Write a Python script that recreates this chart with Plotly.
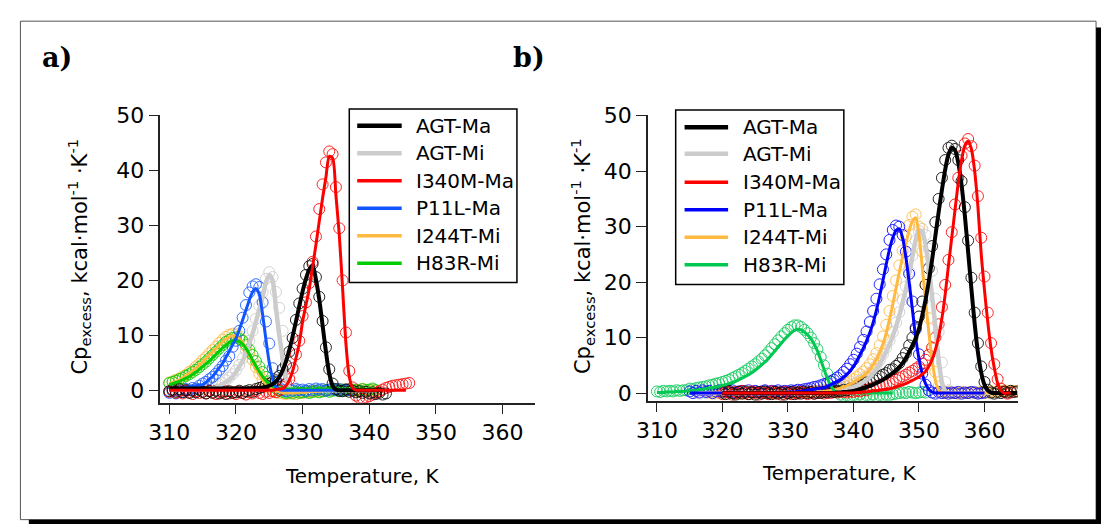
import plotly.graph_objects as go

N = None
W, H = 1101, 529

names = ["AGT-Ma", "AGT-Mi", "I340M-Ma", "P11L-Ma", "I244T-Mi", "H83R-Mi"]

# ---------------- Panel a : temperature grid (K) ----------------
T_A = [310.0, 310.5, 311.0, 311.5, 312.0, 312.5, 313.0, 313.5, 314.0, 314.5,
       315.0, 315.5, 316.0, 316.5, 317.0, 317.5, 318.0, 318.5, 319.0, 319.5,
       320.0, 320.5, 321.0, 321.5, 322.0, 322.5, 323.0, 323.5, 324.0, 324.5,
       325.0, 325.5, 326.0, 326.5, 327.0, 327.5, 328.0, 328.5, 329.0, 329.5,
       330.0, 330.5, 331.0, 331.5, 332.0, 332.5, 333.0, 333.5, 334.0, 334.5,
       335.0, 335.5, 336.0, 336.5, 337.0, 337.5, 338.0, 338.5, 339.0, 339.5,
       340.0, 340.5, 341.0, 341.5, 342.0, 342.5, 343.0, 343.5, 344.0, 344.5,
       345.0, 345.5, 346.0]

a_agt_ma_fit = [0.3, 0.3, 0.3, 0.3, 0.3, 0.3, 0.3, 0.3, 0.3, 0.3,
                0.3, 0.3, 0.3, 0.3, 0.3, 0.3, 0.3, 0.3, 0.3, 0.3,
                0.3, 0.3, 0.3, 0.3, 0.3, 0.3, 0.4, 0.4, 0.5, 0.6,
                0.8, 1.1, 1.6, 2.4, 3.6, 5.2, 7.3, 9.8, 12.5, 15.3,
                18.0, 20.3, 22.0, 22.7, 20.2, 16.5, 11.8, 7.0, 3.0, 0.8,
                0.1, 0.0, 0.0, 0.0, 0.0, 0.0, 0.0, 0.0, 0.0, 0.0,
                0.0, 0.0, 0.0, 0.0, 0.0, N, N, N, N, N,
                N, N, N]
a_agt_ma_data = [-0.2, 0.1, -0.3, 0.2, -0.4, 0.0, -0.5, -0.1, -0.4, 0.1,
                 -0.3, -0.6, -0.2, -0.5, -0.1, -0.6, -0.3, -0.7, -0.2, -0.5,
                 -0.4, -0.1, -0.5, -0.2, 0.0, -0.3, 0.2, 0.4, 0.6, 0.9,
                 1.2, 1.5, 1.8, 2.6, 3.8, 4.6, 7.0, 9.5, 12.8, 15.8,
                 18.5, 21.0, 22.6, 23.0, 20.6, 17.0, 12.6, 7.8, 3.8, 1.2,
                 0.2, -0.1, -0.2, 0.1, -0.3, -0.1, -0.4, -0.2, -0.5, -0.3,
                 -0.6, -0.4, -0.7, -0.5, -0.8, -0.6, N, N, N, N,
                 N, N, N]
a_agt_mi_fit = [0.1, 0.1, 0.1, 0.1, 0.1, 0.1, 0.1, 0.1, 0.1, 0.1,
                0.1, 0.1, 0.2, 0.3, 0.5, 0.8, 1.1, 1.5, 1.9, 2.5,
                3.3, 4.3, 5.3, 6.8, 8.5, 10.3, 12.5, 14.7, 17.0, 19.6,
                21.0, 20.0, 15.0, 10.0, 5.8, 2.2, 0.5, 0.0, 0.0, 0.0,
                0.0, 0.0, 0.0, 0.0, 0.0, 0.0, 0.0, 0.0, 0.0, 0.0,
                0.0, 0.0, 0.0, 0.0, 0.0, 0.0, 0.0, 0.0, 0.0, 0.0,
                0.0, 0.0, 0.0, N, N, N, N, N, N, N,
                N, N, N]
a_agt_mi_data = [0.0, -0.2, 0.1, -0.3, 0.0, -0.2, 0.1, -0.1, 0.2, 0.0,
                 0.2, 0.3, 0.4, 0.6, 0.8, 1.0, 1.3, 1.8, 2.3, 2.9,
                 3.6, 4.6, 5.8, 7.2, 9.0, 10.8, 13.0, 15.4, 17.8, 20.3,
                 21.5, 20.6, 17.9, 15.0, 10.8, 6.0, 2.5, 0.8, 0.0, -0.3,
                 -0.3, -0.5, -0.2, -0.4, -0.1, -0.3, 0.0, -0.2, 0.1, -0.1,
                 0.0, -0.2, 0.1, -0.1, 0.2, 0.0, -0.1, 0.1, -0.2, 0.0,
                 -0.1, 0.1, -0.2, N, N, N, N, N, N, N,
                 N, N, N]
a_i340m_fit = [0.0, 0.0, 0.0, 0.0, 0.0, 0.0, 0.0, 0.0, 0.0, 0.0,
               0.0, 0.0, 0.0, 0.0, 0.0, 0.0, 0.0, 0.0, 0.0, 0.0,
               0.0, 0.0, 0.0, 0.0, 0.0, 0.0, 0.0, 0.0, 0.0, 0.0,
               0.0, 0.0, 0.1, 0.2, 0.3, 0.8, 1.8, 3.5, 5.8, 8.5,
               12.5, 15.5, 18.5, 22.5, 26.5, 30.8, 35.0, 38.8, 42.6, 42.3,
               35.5, 28.3, 18.5, 8.5, 2.5, 0.4, 0.0, 0.0, 0.0, 0.0,
               0.0, 0.0, 0.0, 0.0, 0.0, 0.0, 0.0, 0.0, 0.0, 0.0,
               0.0, 0.0, N]
a_i340m_data = [-0.3, 0.0, -0.5, -0.2, -0.6, -0.1, -0.4, -0.7, -0.2, -0.5,
                -0.3, -0.6, -0.1, -0.4, -0.7, -0.3, -0.5, -0.2, -0.6, -0.4,
                -0.7, -0.3, -0.5, -0.8, -0.4, -0.6, -0.2, -0.5, -0.7, -0.3,
                -0.5, -0.2, -0.4, 0.0, 0.6, 1.2, 2.0, 4.0, 6.5, 9.0,
                13.5, 16.0, 19.5, 23.4, 28.0, 33.0, 37.5, 41.5, 43.5, 43.0,
                37.0, 29.5, 20.0, 10.5, 3.5, 0.5, -1.0, -1.4, -1.5, -1.3,
                -1.1, -0.8, -0.5, -0.2, 0.1, 0.4, 0.6, 0.8, 0.9, 1.0,
                1.1, 1.2, 1.3]
a_p11l_fit = [0.0, 0.1, 0.2, 0.3, 0.4, 0.5, 0.6, 0.7, 0.8, 0.9,
              1.0, 1.4, 2.0, 2.5, 3.3, 4.1, 4.9, 6.0, 7.1, 8.3,
              9.4, 11.0, 12.8, 14.6, 16.4, 17.9, 18.5, 17.5, 13.8, 9.2,
              5.0, 2.2, 0.6, 0.1, 0.0, 0.0, 0.0, 0.0, 0.0, 0.0,
              0.0, 0.0, 0.0, 0.0, 0.0, 0.0, 0.0, 0.0, 0.0, 0.0,
              0.0, 0.0, 0.0, 0.0, 0.0, N, N, N, N, N,
              N, N, N, N, N, N, N, N, N, N,
              N, N, N]
a_p11l_data = [-0.5, -0.2, -0.6, -0.1, -0.3, 0.2, 0.0, 0.4, 0.3, 0.8,
               1.2, 1.5, 2.0, 2.4, 3.0, 3.7, 4.4, 5.4, 6.2, 7.9,
               9.0, 10.8, 13.2, 15.5, 17.8, 18.9, 19.3, 18.8, 16.0, 12.5,
               8.5, 4.0, 1.5, 0.5, 0.0, -0.2, 0.1, -0.1, 0.2, 0.0,
               0.1, -0.1, 0.2, 0.0, 0.3, 0.1, 0.2, -0.1, 0.1, 0.3,
               0.0, 0.2, -0.1, 0.1, 0.0, N, N, N, N, N,
               N, N, N, N, N, N, N, N, N, N,
               N, N, N]
a_i244t_fit = [1.2, 1.4, 1.6, 1.9, 2.2, 2.6, 3.0, 3.5, 4.0, 4.6,
               5.2, 5.8, 6.4, 7.0, 7.6, 8.2, 8.8, 9.3, 9.7, 9.9,
               9.8, 9.4, 8.6, 7.6, 6.4, 5.1, 3.9, 2.8, 1.9, 1.2,
               0.6, 0.2, -0.1, -0.3, -0.4, -0.5, -0.5, -0.5, -0.5, -0.4,
               -0.4, -0.4, -0.3, -0.3, -0.2, -0.2, -0.1, -0.1, 0.0, 0.0,
               0.0, 0.0, 0.0, 0.0, 0.0, 0.0, 0.0, 0.0, 0.0, 0.0,
               0.0, 0.0, 0.0, N, N, N, N, N, N, N,
               N, N, N]
a_i244t_data = [1.4, 1.6, 1.9, 2.1, 2.5, 2.8, 3.3, 3.7, 4.3, 4.8,
                5.5, 6.0, 6.7, 7.3, 7.9, 8.6, 9.2, 9.7, 10.1, 10.3,
                10.2, 9.8, 9.0, 8.0, 6.8, 5.5, 4.2, 3.0, 2.0, 1.2,
                0.5, 0.0, -0.3, -0.5, -0.6, -0.7, -0.6, -0.5, -0.7, -0.4,
                -0.5, -0.3, -0.4, -0.2, -0.3, -0.1, -0.2, 0.0, -0.1, 0.1,
                0.0, 0.1, -0.1, 0.2, 0.0, 0.1, -0.1, 0.0, 0.2, 0.1,
                0.0, 0.1, -0.1, N, N, N, N, N, N, N,
                N, N, N]
a_h83r_fit = [1.0, 1.2, 1.4, 1.6, 1.9, 2.2, 2.5, 2.9, 3.3, 3.8,
              4.3, 4.8, 5.3, 5.9, 6.5, 7.1, 7.7, 8.2, 8.7, 9.0,
              9.1, 8.9, 8.4, 7.6, 6.6, 5.5, 4.4, 3.4, 2.5, 1.7,
              1.1, 0.7, 0.4, 0.3, 0.2, 0.2, 0.2, 0.2, 0.2, 0.2,
              0.2, 0.2, 0.2, 0.2, 0.2, 0.2, 0.2, 0.2, 0.2, 0.2,
              0.2, 0.2, 0.2, 0.2, 0.2, 0.2, 0.2, 0.2, 0.2, 0.2,
              0.2, 0.2, 0.2, N, N, N, N, N, N, N,
              N, N, N]
a_h83r_data = [1.3, 1.5, 1.7, 2.0, 2.2, 2.6, 2.9, 3.3, 3.7, 4.2,
               4.7, 5.2, 5.8, 6.4, 7.0, 7.6, 8.2, 8.8, 9.2, 9.5,
               9.6, 9.4, 9.0, 8.3, 7.4, 6.4, 5.3, 4.3, 3.3, 2.4,
               1.6, 0.9, 0.3, -0.1, -0.3, -0.5, -0.4, -0.6, -0.3, -0.5,
               -0.4, -0.2, -0.5, -0.3, -0.1, -0.4, -0.2, 0.0, -0.3, -0.1,
               0.0, -0.2, 0.1, -0.1, 0.2, 0.0, 0.1, -0.1, 0.2, 0.0,
               0.1, 0.3, 0.0, N, N, N, N, N, N, N,
               N, N, N]

# ---------------- Panel b : temperature grid (K) ----------------
T_B = [310.0, 310.5, 311.0, 311.5, 312.0, 312.5, 313.0, 313.5, 314.0, 314.5,
       315.0, 315.5, 316.0, 316.5, 317.0, 317.5, 318.0, 318.5, 319.0, 319.5,
       320.0, 320.5, 321.0, 321.5, 322.0, 322.5, 323.0, 323.5, 324.0, 324.5,
       325.0, 325.5, 326.0, 326.5, 327.0, 327.5, 328.0, 328.5, 329.0, 329.5,
       330.0, 330.5, 331.0, 331.5, 332.0, 332.5, 333.0, 333.5, 334.0, 334.5,
       335.0, 335.5, 336.0, 336.5, 337.0, 337.5, 338.0, 338.5, 339.0, 339.5,
       340.0, 340.5, 341.0, 341.5, 342.0, 342.5, 343.0, 343.5, 344.0, 344.5,
       345.0, 345.5, 346.0, 346.5, 347.0, 347.5, 348.0, 348.5, 349.0, 349.5,
       350.0, 350.5, 351.0, 351.5, 352.0, 352.5, 353.0, 353.5, 354.0, 354.5,
       355.0, 355.5, 356.0, 356.5, 357.0, 357.5, 358.0, 358.5, 359.0, 359.5,
       360.0, 360.5, 361.0, 361.5, 362.0, 362.5, 363.0, 363.5, 364.0, 364.5,
       365.0]

b_agt_ma_fit = [N] * 20 + [
    0.0, 0.0, 0.0, 0.0, 0.0, 0.0, 0.0, 0.0, 0.0, 0.0,
    0.0, 0.0, 0.0, 0.0, 0.0, 0.0, 0.0, 0.0, 0.0, 0.0,
    0.0, 0.0, 0.0, 0.0, 0.0, 0.0, 0.0, 0.0, 0.0, 0.0,
    0.0, 0.0, 0.0, 0.0, 0.0, 0.1, 0.1, 0.2, 0.2, 0.3,
    0.4, 0.5, 0.7, 0.9, 1.1, 1.3, 1.5, 1.8, 2.1, 2.4,
    2.8, 3.2, 3.6, 4.1, 4.7, 5.4, 6.3, 7.4, 8.6, 9.9,
    11.6, 14.0, 16.8, 20.2, 24.0, 28.3, 32.6, 36.6, 40.3, 43.0,
    44.2, 43.8, 41.5, 37.5, 32.0, 25.5, 18.8, 12.5, 7.3, 3.7,
    1.5, 0.5, 0.1, 0.0, 0.0, 0.0, 0.0, 0.0, 0.0, 0.0,
    0.0]
b_agt_ma_data = [N] * 20 + [
    0.3, -0.2, 0.4, 0.0, -0.3, 0.2, -0.1, 0.3, -0.2, 0.1,
    -0.3, 0.2, -0.1, 0.3, 0.0, -0.2, 0.2, -0.1, 0.1, -0.3,
    0.0, 0.2, -0.2, 0.1, -0.1, 0.3, 0.0, 0.2, -0.1, 0.1,
    0.0, 0.2, 0.1, 0.3, 0.2, 0.4, 0.3, 0.6, 0.5, 0.8,
    0.9, 1.1, 1.4, 1.5, 1.9, 2.0, 2.4, 2.6, 3.0, 3.3,
    3.6, 4.2, 4.3, 4.9, 5.4, 6.3, 7.2, 8.6, 10.0, 11.8,
    13.8, 16.5, 19.5, 22.5, 26.5, 30.8, 35.0, 38.8, 42.0, 44.2,
    44.6, 44.0, 42.0, 38.2, 33.5, 27.5, 20.8, 14.5, 9.0, 4.8,
    2.0, 0.6, 0.1, -0.1, 0.2, 0.0, 0.3, 0.1, 0.4, 0.2,
    0.3]
b_agt_mi_fit = [N] * 12 + [
    0.0, 0.0, 0.0, 0.0, 0.0, 0.0, 0.0, 0.0,
    0.0, 0.0, 0.0, 0.0, 0.0, 0.0, 0.0, 0.0, 0.0, 0.0,
    0.0, 0.0, 0.0, 0.0, 0.0, 0.0, 0.0, 0.0, 0.0, 0.0,
    0.0, 0.0, 0.0, 0.0, 0.0, 0.0, 0.0, 0.0, 0.0, 0.1,
    0.1, 0.2, 0.2, 0.3, 0.3, 0.4, 0.5, 0.6, 0.8, 0.9,
    1.1, 1.3, 1.6, 2.0, 2.4, 2.9, 3.6, 4.3, 5.2, 6.3,
    7.5, 8.8, 10.3, 12.0, 14.0, 16.3, 18.7, 21.5, 24.6, 27.6,
    29.4, 29.0, 26.8, 22.5, 17.5, 12.0, 6.0, 2.0, 0.4, 0.0,
    0.0, 0.0, 0.0, 0.0, 0.0, 0.0, 0.0, 0.0, 0.0, 0.0,
    0.0, 0.0, 0.0, 0.0, 0.0] + [N] * 6
b_agt_mi_data = [N] * 12 + [
    0.1, -0.1, 0.2, 0.0, 0.3, 0.1, -0.1, 0.2,
    0.0, 0.2, -0.1, 0.1, 0.3, 0.0, 0.2, -0.1, 0.1, 0.2,
    0.0, 0.1, -0.1, 0.2, 0.0, 0.1, 0.3, 0.0, 0.2, -0.1,
    0.1, 0.0, 0.2, 0.1, 0.3, 0.2, 0.1, 0.3, 0.2, 0.4,
    0.3, 0.5, 0.4, 0.6, 0.5, 0.8, 0.9, 1.0, 1.2, 1.4,
    1.6, 1.9, 2.2, 2.6, 3.0, 3.6, 4.2, 5.0, 5.9, 7.0,
    8.2, 9.5, 11.0, 12.7, 14.6, 16.8, 19.2, 21.9, 24.8, 27.5,
    29.2, 29.6, 28.5, 26.0, 22.0, 17.0, 11.0, 5.5, 2.0, 0.5,
    0.0, 0.1, -0.1, 0.2, 0.0, 0.1, -0.1, 0.2, 0.0, 0.1,
    0.0, 0.2, -0.1, 0.1, 0.0] + [N] * 6
b_i340m_fit = [N] * 20 + [
    0.0, 0.0, 0.0, 0.0, 0.0, 0.0, 0.0, 0.0, 0.0, 0.0,
    0.0, 0.0, 0.0, 0.0, 0.0, 0.0, 0.0, 0.0, 0.0, 0.0,
    0.0, 0.0, 0.0, 0.0, 0.0, 0.0, 0.0, 0.0, 0.0, 0.0,
    0.0, 0.0, 0.0, 0.0, 0.0, 0.0, 0.0, 0.0, 0.0, 0.0,
    0.0, 0.1, 0.1, 0.2, 0.2, 0.3, 0.4, 0.4, 0.5, 0.6,
    0.7, 0.8, 0.9, 1.1, 1.3, 1.5, 1.7, 2.0, 2.3, 2.6,
    2.9, 3.4, 3.9, 4.8, 6.0, 7.8, 10.2, 13.5, 17.8, 23.0,
    28.0, 33.0, 38.0, 42.0, 44.6, 45.4, 44.0, 40.0, 33.5, 25.0,
    18.5, 12.8, 8.0, 4.5, 1.8, 0.5, 0.0, 0.0, 0.0, N,
    N]
b_i340m_data = [N] * 20 + [
    -0.2, 0.3, 0.1, -0.3, 0.2, -0.1, 0.4, 0.0, -0.2, 0.3,
    0.1, -0.3, 0.2, 0.0, -0.2, 0.3, -0.1, 0.1, -0.3, 0.2,
    0.0, -0.2, 0.1, -0.1, 0.2, 0.0, -0.2, 0.1, -0.1, 0.0,
    0.2, -0.1, 0.1, 0.0, 0.2, 0.1, 0.3, 0.2, 0.1, 0.3,
    0.2, 0.4, 0.3, 0.6, 0.5, 0.8, 0.9, 1.2, 1.4, 1.6,
    1.5, 1.8, 2.0, 2.4, 2.7, 3.0, 3.3, 3.7, 4.0, 4.4,
    4.8, 5.3, 6.0, 6.9, 8.2, 10.0, 12.4, 15.5, 19.5, 24.0,
    29.0, 34.0, 38.8, 42.8, 45.0, 45.8, 44.5, 41.0, 35.5, 28.0,
    21.0, 14.5, 9.0, 5.2, 2.5, 0.8, 0.2, -0.1, 0.1, N,
    N]
b_p11l_fit = [N] * 10 + [
    0.0, 0.0, 0.0, 0.0, 0.0, 0.0, 0.0, 0.0, 0.0, 0.0,
    0.0, 0.0, 0.0, 0.0, 0.0, 0.0, 0.0, 0.0, 0.0, 0.0,
    0.0, 0.0, 0.0, 0.0, 0.0, 0.0, 0.0, 0.0, 0.1, 0.1,
    0.1, 0.2, 0.2, 0.3, 0.3, 0.4, 0.5, 0.6, 0.7, 0.8,
    0.9, 1.0, 1.2, 1.5, 1.8, 2.1, 2.4, 2.9, 3.4, 4.0,
    4.8, 5.8, 6.9, 8.1, 9.4, 10.9, 12.7, 14.9, 17.5, 20.3,
    23.2, 25.9, 28.0, 29.3, 29.6, 28.0, 24.5, 20.0, 15.0, 10.0,
    6.2, 3.5, 1.7, 0.7, 0.2, 0.0, 0.0, 0.0, 0.0, 0.0,
    0.0, 0.0, 0.0, 0.0, 0.0, 0.0, 0.0, 0.0, 0.0, 0.0,
    0.0] + [N] * 10
b_p11l_data = [N] * 10 + [
    0.3, 0.0, 0.4, 0.1, 0.5, 0.2, 0.4, 0.0, 0.3, 0.5,
    0.1, 0.4, 0.2, 0.5, 0.0, 0.3, 0.4, 0.1, 0.5, 0.2,
    0.4, 0.1, 0.3, 0.5, 0.2, 0.4, 0.3, 0.5, 0.2, 0.4,
    0.3, 0.5, 0.4, 0.6, 0.5, 0.7, 0.8, 0.9, 1.1, 1.2,
    1.4, 1.6, 1.8, 2.1, 2.4, 2.8, 3.2, 3.8, 4.4, 5.2,
    6.0, 7.1, 8.3, 9.6, 11.1, 12.8, 14.8, 17.0, 19.6, 22.3,
    25.0, 27.6, 29.4, 30.2, 30.0, 28.5, 25.5, 21.5, 16.5, 11.5,
    7.0, 3.5, 1.5, 0.5, 0.1, -0.1, 0.2, 0.0, 0.1, -0.1,
    0.1, 0.0, 0.2, -0.1, 0.1, 0.0, 0.2, 0.1, -0.1, 0.0,
    0.1] + [N] * 10
b_i244t_fit = [N] * 16 + [
    0.0, 0.0, 0.0, 0.0,
    0.0, 0.0, 0.0, 0.0, 0.0, 0.0, 0.0, 0.0, 0.0, 0.0,
    0.0, 0.0, 0.0, 0.0, 0.0, 0.0, 0.0, 0.0, 0.0, 0.0,
    0.0, 0.0, 0.0, 0.0, 0.0, 0.0, 0.0, 0.1, 0.1, 0.2,
    0.2, 0.3, 0.3, 0.4, 0.5, 0.7, 0.9, 1.1, 1.3, 1.6,
    1.9, 2.3, 2.7, 3.1, 3.6, 4.3, 5.1, 6.1, 7.3, 8.8,
    10.8, 13.3, 16.0, 18.9, 21.8, 24.5, 27.0, 29.3, 31.0, 31.6,
    28.5, 22.7, 16.8, 11.0, 6.0, 2.3, 0.6, 0.1, 0.0, 0.0,
    0.0, 0.0, 0.0, 0.0, 0.0, 0.0, 0.0, 0.0, 0.0, 0.0,
    0.0, 0.0, 0.0, 0.0, 0.0, 0.0, 0.0, 0.0, 0.0, 0.0,
    0.0]
b_i244t_data = [N] * 16 + [
    0.1, -0.1, 0.2, 0.0,
    0.1, -0.1, 0.2, 0.0, -0.2, 0.1, 0.0, -0.1, 0.2, 0.0,
    -0.1, 0.1, 0.0, 0.2, -0.1, 0.0, 0.1, -0.1, 0.2, 0.1,
    0.0, 0.2, 0.1, 0.0, 0.2, 0.1, 0.3, 0.2, 0.4, 0.3,
    0.5, 0.4, 0.6, 0.7, 0.9, 1.0, 1.3, 1.5, 1.8, 2.1,
    2.5, 2.9, 3.4, 3.9, 4.5, 5.2, 6.1, 7.2, 8.6, 10.2,
    12.3, 14.8, 17.5, 20.3, 23.0, 25.7, 28.2, 30.3, 31.8, 32.2,
    30.0, 25.5, 19.5, 13.5, 8.0, 3.8, 1.2, 0.3, 0.0, 0.2,
    0.0, 0.1, -0.1, 0.2, 0.0, 0.1, 0.2, 0.0, 0.1, 0.2,
    0.0, 0.1, 0.3, 0.2, 0.4, 0.3, 0.5, 0.4, 0.3, 0.4,
    0.3]
b_h83r_fit = [
    0.1, 0.1, 0.1, 0.2, 0.2, 0.2, 0.3, 0.3, 0.3, 0.4,
    0.4, 0.5, 0.5, 0.6, 0.7, 0.8, 0.9, 1.0, 1.1, 1.2,
    1.4, 1.5, 1.7, 1.9, 2.1, 2.4, 2.7, 3.0, 3.3, 3.7,
    4.1, 4.6, 5.1, 5.6, 6.2, 6.9, 7.6, 8.3, 9.0, 9.7,
    10.3, 10.9, 11.3, 11.5, 11.4, 11.0, 10.5, 9.8, 8.8, 7.6,
    6.0, 4.3, 2.7, 1.4, 0.5, 0.1, 0.0, 0.0, 0.0, 0.0,
    0.0, 0.0, 0.0, 0.0, 0.0, 0.0, 0.0, 0.0, 0.0, 0.0,
    0.0, 0.0, 0.0] + [N] * 38
b_h83r_data = [
    0.3, 0.2, 0.4, 0.3, 0.4, 0.3, 0.5, 0.4, 0.5, 0.5,
    0.8, 0.7, 0.9, 1.0, 1.1, 1.2, 1.4, 1.5, 1.7, 1.8,
    2.0, 2.2, 2.4, 2.7, 3.0, 3.3, 3.6, 4.0, 4.4, 4.8,
    5.2, 5.7, 6.2, 6.8, 7.4, 8.1, 8.8, 9.5, 10.2, 10.8,
    11.4, 11.9, 12.2, 12.2, 11.9, 11.4, 10.8, 10.0, 9.0, 7.9,
    6.5, 5.0, 3.5, 2.1, 1.0, 0.2, -0.3, -0.5, -0.4, -0.6,
    -0.4, -0.5, -0.3, -0.6, -0.4, -0.5, -0.3, -0.6, -0.4, -0.5,
    -0.3, -0.4, -0.2, -0.1, 0.0, 0.1, 0.0, 0.2, 0.1, 0.0,
    0.1, 0.2, 0.1] + [N] * 28

colors_a = ["#000000", "#cccccc", "#ff0000", "#1155ff", "#ffb840", "#00cc00"]
colors_b = ["#000000", "#cccccc", "#ff0000", "#0000ff", "#ffb840", "#00c850"]
fit_widths = [4, 4.5, 3, 3, 3, 3]
legend_widths = [4.5, 4.5, 3.5, 3.5, 3.5, 3.5]

fits_a = [a_agt_ma_fit, a_agt_mi_fit, a_i340m_fit, a_p11l_fit, a_i244t_fit, a_h83r_fit]
data_a = [a_agt_ma_data, a_agt_mi_data, a_i340m_data, a_p11l_data, a_i244t_data, a_h83r_data]
fits_b = [b_agt_ma_fit, b_agt_mi_fit, b_i340m_fit, b_p11l_fit, b_i244t_fit, b_h83r_fit]
data_b = [b_agt_ma_data, b_agt_mi_data, b_i340m_data, b_p11l_data, b_i244t_data, b_h83r_data]

for lst in fits_a + data_a:
    assert len(lst) == len(T_A), len(lst)
for lst in fits_b + data_b:
    assert len(lst) == len(T_B), len(lst)


def px(x):
    return x / W


def py(y):
    return 1 - y / H


fig = go.Figure()
order_data = [1, 4, 5, 3, 2, 0]
order_fit = [1, 4, 5, 3, 0, 2]

for T, fits, datas, cols, xa, ya in [(T_A, fits_a, data_a, colors_a, "x", "y"),
                                     (T_B, fits_b, data_b, colors_b, "x2", "y2")]:
    for i in order_data:
        fig.add_trace(go.Scatter(
            x=T, y=datas[i], mode="markers", name=names[i], showlegend=False,
            marker=dict(symbol="circle-open", size=11, color=cols[i],
                        line=dict(width=1, color=cols[i])),
            opacity=0.85, xaxis=xa, yaxis=ya, hoverinfo="skip"))
    for i in order_fit:
        fig.add_trace(go.Scatter(
            x=T, y=fits[i], mode="lines", name=names[i], showlegend=False,
            line=dict(color=cols[i], width=fit_widths[i], shape="spline", smoothing=0.7),
            xaxis=xa, yaxis=ya, hoverinfo="skip"))

tickfont = dict(family="DejaVu Sans", size=22, color="#000")
xcommon = dict(tickmode="array", tickvals=[310, 320, 330, 340, 350, 360],
               ticks="outside", ticklen=9, tickwidth=1.3, tickcolor="#222",
               showline=True, linecolor="#222", linewidth=1.5, showgrid=False,
               zeroline=False, tickfont=tickfont)
ycommon = dict(tickmode="array", tickvals=[0, 10, 20, 30, 40, 50],
               ticks="outside", ticklen=10, tickwidth=1.3, tickcolor="#222",
               showline=True, linecolor="#222", linewidth=1.5, showgrid=False,
               zeroline=False, tickfont=tickfont)

fig.update_layout(
    width=W, height=H, margin=dict(l=0, r=0, t=0, b=0),
    paper_bgcolor="white", plot_bgcolor="white", showlegend=False,
    font=dict(family="DejaVu Sans", color="#000", size=20),
    xaxis=dict(domain=[px(150), px(529)], range=[308.66, 364.9], anchor="y", **xcommon),
    yaxis=dict(domain=[py(404), py(107)], range=[-2.3, 50.18], anchor="x", **ycommon),
    xaxis2=dict(domain=[px(643), px(1017)], range=[308.64, 365.1], anchor="y2", **xcommon),
    yaxis2=dict(domain=[py(402), py(107)], range=[-1.4, 50.17], anchor="x2", **ycommon),
)

shapes = []
annotations = []

# outer frame with shadow
shapes.append(dict(type="rect", xref="paper", yref="paper", x0=px(8.5), x1=px(1096),
                   y0=py(524.5), y1=py(10.5), line=dict(color="#555", width=1)))
shapes.append(dict(type="rect", xref="paper", yref="paper", x0=px(1096), x1=px(1101),
                   y0=py(529), y1=py(17), fillcolor="#000", line=dict(width=0)))
shapes.append(dict(type="rect", xref="paper", yref="paper", x0=px(17), x1=px(1101),
                   y0=py(529), y1=py(524.5), fillcolor="#000", line=dict(width=0)))

# legends
legends = [
    dict(box=(341, 510.5, 101, 280), rows=[118.3, 146.7, 175.0, 203.3, 231.7, 260.0],
         lx=(349, 394), tx=406.5, cols=colors_a),
    dict(box=(671, 841, 102, 282), rows=[120.0, 147.3, 176.7, 205.0, 233.3, 261.7],
         lx=(680, 724), tx=737, cols=colors_b),
]
for lg in legends:
    x0, x1, y0, y1 = lg["box"]
    shapes.append(dict(type="rect", xref="paper", yref="paper", x0=px(x0), x1=px(x1),
                       y0=py(y1), y1=py(y0), line=dict(color="#000", width=1.5),
                       fillcolor="rgba(255,255,255,0)"))
    for i, ry in enumerate(lg["rows"]):
        shapes.append(dict(type="line", xref="paper", yref="paper",
                           x0=px(lg["lx"][0]), x1=px(lg["lx"][1]), y0=py(ry), y1=py(ry),
                           line=dict(color=lg["cols"][i], width=legend_widths[i])))
        annotations.append(dict(xref="paper", yref="paper", x=px(lg["tx"]), y=py(ry),
                                xanchor="left", yanchor="middle", showarrow=False,
                                text=names[i], font=dict(family="DejaVu Sans", size=20, color="#000")))

ytitle = "Cp<sub>excess</sub>, kcal·mol<sup>-1</sup> ·K<sup>-1</sup>"
for xc in (68, 577):
    annotations.append(dict(xref="paper", yref="paper", x=px(xc), y=py(253), textangle=-90,
                            xanchor="center", yanchor="middle", showarrow=False, text=ytitle,
                            font=dict(family="DejaVu Sans", size=21, color="#000")))
for xc, yc in ((354, 479), (836, 476)):
    annotations.append(dict(xref="paper", yref="paper", x=px(xc), y=py(yc),
                            xanchor="center", yanchor="middle", showarrow=False,
                            text="Temperature, K",
                            font=dict(family="DejaVu Sans", size=20, color="#000")))
for xl, lab in ((28, "a)"), (505, "b)")):
    annotations.append(dict(xref="paper", yref="paper", x=px(xl), y=py(48),
                            xanchor="left", yanchor="middle", showarrow=False,
                            text="<b>%s</b>" % lab,
                            font=dict(family="DejaVu Serif", size=27, color="#000")))

fig.update_layout(shapes=shapes, annotations=annotations)
fig.write_html("out.html")
